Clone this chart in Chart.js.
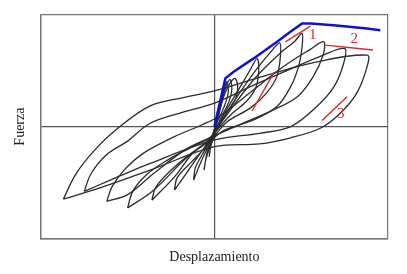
<!DOCTYPE html>
<html>
<head>
<meta charset="utf-8">
<script src="https://cdn.jsdelivr.net/npm/chart.js@4/dist/chart.umd.min.js"></script>
<style>
  html, body { margin: 0; padding: 0; background: #fff; }
  #wrap { width: 407px; height: 274px; }
</style>
</head>
<body>
<div id="wrap"><canvas id="chart"></canvas></div>
<script>
// hysteresis loops, [desplazamiento, fuerza] (axes -100..100)
const loop1 = [[-87,-65],[-80,-43],[-69.5,-22],[-56,-2],[-37,18.5],[-18,26],[0,32],[30,46],[59,58],[88,64],
  [88,54],[82,30],[72.5,12],[61,-1.5],[44,-10],[26,-15.5],[0,-18],[-37,-39],[-66,-55],[-87,-65]];
const loop2 = [[-75,-58],[-71,-42],[-62,-25],[-50,-13],[-37,3],[-18,13],[0,21],[21,36],[40,49],[61,63],[75,70],
  [74.5,57],[69,36],[59,18],[44,0],[26,-6],[0,-12],[-37,-33],[-60,-48],[-75,-58]];
const loop3 = [[-62,-67],[-59,-54],[-52,-39],[-41,-24],[-23,-9],[-8,1],[3.5,10],[21,31],[40,54],[55,69],[63,76],
  [62.6,64],[57,45],[48,27],[34,15],[15,2],[-1,-9],[-16,-20],[-35,-42],[-50,-61],[-62,-67]];
const loop4 = [[-50,-73],[-47,-58],[-39,-43],[-27,-30],[-14,-19],[-2,-9],[5,6],[22.6,42],[38,66],[46,76],[50.5,83.5],
  [50.5,71.5],[48.5,54],[44,36],[36,18],[22.6,6],[6,-3],[-1,-11],[-16,-28],[-35,-57],[-50,-73]];
const loop5 = [[-36,-66],[-34,-55],[-27,-42],[-16,-27],[-4,-13],[0.5,-4],[11,22],[22.6,48],[32,66],[37.6,75],
  [38,63],[36,45],[30,30],[21,17],[7,4],[-1,-10],[-12,-23],[-23,-45],[-36,-66]];
const loop6 = [[-23,-57],[-21.5,-46],[-14,-33],[-6,-20],[-1,-10],[4.5,8],[15,36],[20.7,51],[24.6,61],
  [25.5,49],[23.6,34],[18,22],[9,10],[0,-6],[-5,-17],[-14,-37],[-23,-57]];
const loop7 = [[-12,-48],[-11,-37],[-7,-25],[-2,-11],[1.5,5],[5.4,27],[9,39],[12,43],
  [13.4,34],[12,24],[7,12],[1,-3],[-1.5,-12],[-7,-29],[-12,-48]];
const loop8 = [[-6,-39],[-5,-30],[-2.5,-18],[-0.5,-9],[2.5,12],[6.3,34],[9,42],
  [10,33],[8,21],[3.5,7],[-1,-10],[-4,-22],[-6,-39]];
const loop9 = [[-3,-27],[-2,-17],[0,-8],[3.5,19],[7,40],
  [8,31],[5.4,17],[0.5,0],[-1.5,-12],[-3,-27]];
const loops = [loop1, loop2, loop3, loop4, loop5, loop6, loop7, loop8, loop9];

// envelope (blue)
const envelope = [[0,0],[3.5,23.8],[6.3,43.2],[11.1,49.2],[22.6,61.1],[36.1,76],[43.8,84.9],[50.5,92.4],
  [55.3,92.4],[68.7,90.9],[87.9,87.9],[95.6,86.4]];

// red stiffness lines and their labels
const redLines = [
  [[40.9,76],[55.3,90]],
  [[63.9,73],[91.4,68.6]],
  [[21.7,14],[34.2,48.3]],
  [[62,5.4],[76.4,26.8]]
];
const redLabels = ['1', '2', '3'];
const redLabelPos = [[56.6,82], [80.6,78.1], [72.8,11]];

const serif = "'Liberation Serif', 'Times New Roman', serif";
const frameGray = '#767676';

function toPts(arr){
  return arr.map(p => ({x: p[0], y: p[1]}));
}

const datasets = [];
datasets.push({
  data: toPts(envelope), showLine: true, borderColor: '#1010d8', borderWidth: 2.5,
  pointRadius: 0, tension: 0, order: 0
});
redLines.forEach(l => {
  datasets.push({
    data: toPts(l), showLine: true, borderColor: '#e02828', borderWidth: 1.4,
    pointRadius: 0, order: 1
  });
});
loops.forEach(l => {
  datasets.push({
    data: toPts(l), showLine: true, borderColor: '#2a2c2e', borderWidth: 1.3,
    pointRadius: 0, tension: 0.35, order: 2
  });
});

const labelPlugin = {
  id: 'redLabels',
  afterDatasetsDraw(chart){
    const c = chart.ctx;
    const xs = chart.scales.x, ys = chart.scales.y;
    c.save();
    c.fillStyle = '#e02828';
    c.font = '15px ' + serif;
    c.textAlign = 'center';
    c.textBaseline = 'middle';
    redLabels.forEach((t, i) => {
      c.fillText(t, xs.getPixelForValue(redLabelPos[i][0]), ys.getPixelForValue(redLabelPos[i][1]));
    });
    c.restore();
  }
};

function gridColor(ctx){
  return ctx.tick && ctx.tick.value === 0 ? '#555' : frameGray;
}

const ctx = document.getElementById('chart').getContext('2d');
const myChart = new Chart(ctx, {
  type: 'scatter',
  data: { datasets: datasets },
  options: {
    responsive: true,
    maintainAspectRatio: false,
    animation: false,
    layout: { padding: { left: 8, right: 19, top: 15, bottom: 4 } },
    plugins: { legend: { display: false }, tooltip: { enabled: false } },
    scales: {
      x: {
        min: -100, max: 100,
        ticks: { display: false, stepSize: 100 },
        grid: { drawTicks: false, color: gridColor, lineWidth: 1.2 },
        border: { display: true, color: frameGray, width: 1.4 },
        title: { display: true, text: 'Desplazamiento', color: '#222',
          font: { family: serif, size: 14 }, padding: { top: 11, bottom: 4 } }
      },
      y: {
        min: -100, max: 100,
        ticks: { display: false, stepSize: 100 },
        grid: { drawTicks: false, color: gridColor, lineWidth: 1.2 },
        border: { display: true, color: frameGray, width: 1.4 },
        title: { display: true, text: 'Fuerza', color: '#222',
          font: { family: serif, size: 14 }, padding: { top: 4, bottom: 12 } }
      }
    }
  },
  plugins: [labelPlugin]
});
</script>
</body>
</html>
